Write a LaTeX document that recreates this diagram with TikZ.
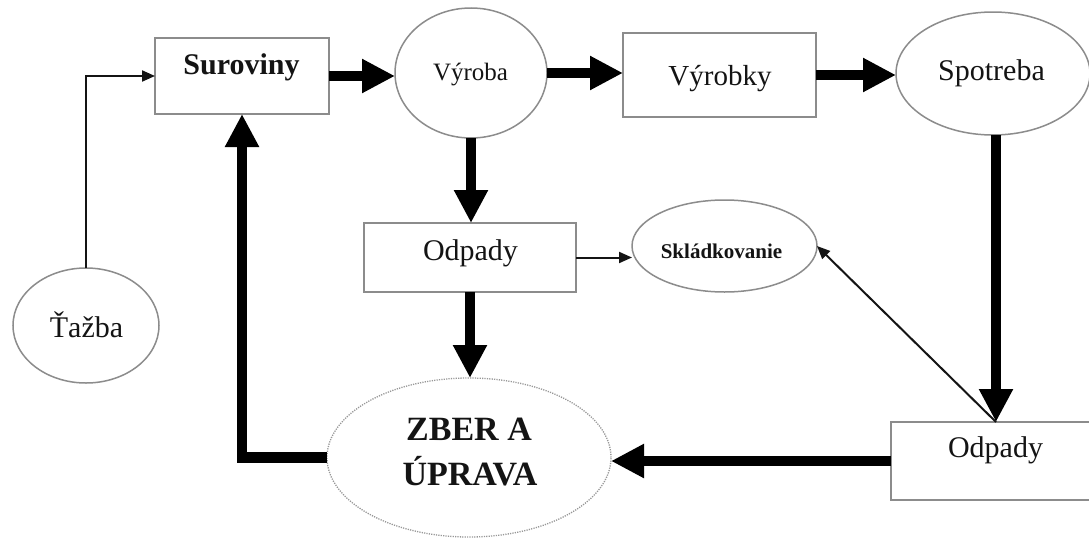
\documentclass[tikz,border=0pt]{standalone}
\usepackage{fontspec}
\setmainfont{Liberation Serif}
\usetikzlibrary{arrows.meta,shapes.geometric}
\definecolor{edgegray}{HTML}{8C8C8C}
\definecolor{ink}{HTML}{141414}
\tikzset{
  boxnode/.style={draw=edgegray, line width=1.5pt, rectangle, inner sep=0pt, outer sep=0pt},
  ovalnode/.style={draw=edgegray, line width=1.5pt, ellipse, inner sep=0pt, outer sep=0pt},
  txt/.style={anchor=base, text=ink, inner sep=0pt},
  bigflow/.style={line width=10.5pt, -{Triangle[length=33pt,width=32pt]}},
  smallflow/.style={line width=2pt, draw=ink, -{Triangle[length=13pt,width=11pt]}},
}
\newcommand{\fsz}[1]{\fontsize{#1}{#1}\selectfont}
\begin{document}
\begin{tikzpicture}[x=1pt,y=-1pt]
\clip (0,0) rectangle (1089,538);
\fill[white] (0,0) rectangle (1089,538);

% boxes and ovals
\node[boxnode, minimum width=174pt, minimum height=76pt] (suro) at (242,76) {};
\node[ovalnode, minimum width=152pt, minimum height=130pt] (vyroba) at (471,73) {};
\node[boxnode, minimum width=193pt, minimum height=84pt] (vyrobky) at (719.5,75) {};
\node[ovalnode, minimum width=194pt, minimum height=123pt] (spotreba) at (993,73.5) {};
\node[boxnode, minimum width=212pt, minimum height=69pt] (odpA) at (470,257.5) {};
\node[ovalnode, minimum width=185pt, minimum height=92pt] (sklad) at (724.5,246) {};
\node[boxnode, minimum width=210pt, minimum height=78pt] (odpB) at (996,461) {};
\node[ovalnode, draw=edgegray!90, line width=1.3pt, dash pattern=on 1.2pt off 1.2pt,
      minimum width=284pt, minimum height=159pt] (zber) at (469,457.5) {};
\node[ovalnode, minimum width=146pt, minimum height=115pt] (tazba) at (86,325.5) {};

% labels
\node[txt, font=\bfseries\fsz{30}] (tsuro) at (241.5,74) {Suroviny};
\node[txt, font=\fsz{25}] (tvyroba) at (470.5,80) {Výroba};
\node[txt, font=\fsz{29}] (tvyrobky) at (720,85) {Výrobky};
\node[txt, font=\fsz{30}] (tspotreba) at (991.5,80) {Spotreba};
\node[txt, font=\fsz{30}] (todpA) at (470.5,260) {Odpady};
\node[txt, font=\bfseries\fsz{21}] (tsklad) at (721.5,258) {Skládkovanie};
\node[txt, font=\fsz{30}] (todpB) at (995.5,457) {Odpady};
\node[txt, font=\fsz{30}] (ttazba) at (86.5,337) {Ťažba};
\node[txt, font=\bfseries\fsz{34}] (tzber1) at (469,440) {ZBER A};
\node[txt, font=\bfseries\fsz{34}] (tzber2) at (470,485) {ÚPRAVA};

% main flow
\draw[bigflow] (suro.east) -- (suro.east -| vyroba.west);
\draw[bigflow] (vyroba.east) -- (vyroba.east -| vyrobky.west);
\draw[bigflow] (vyrobky.east) -- (vyrobky.east -| spotreba.west);
\draw[bigflow] (odpB.north |- spotreba.south) -- (odpB.north);
\draw[bigflow] (vyroba.south) -- (vyroba.south |- odpA.north);
\draw[bigflow] (odpA.south) -- (odpA.south |- zber.north);
\draw[bigflow] (odpB.west) -- (odpB.west -| zber.east);
\draw[bigflow] (zber.west) -| (suro.south);

% side flows
\draw[smallflow] (odpA.east) -- (odpA.east -| sklad.west);
\draw[smallflow] (odpB.north) -- (sklad.east);
\draw[smallflow] (tazba.north) |- (suro.west);
\end{tikzpicture}
\end{document}
